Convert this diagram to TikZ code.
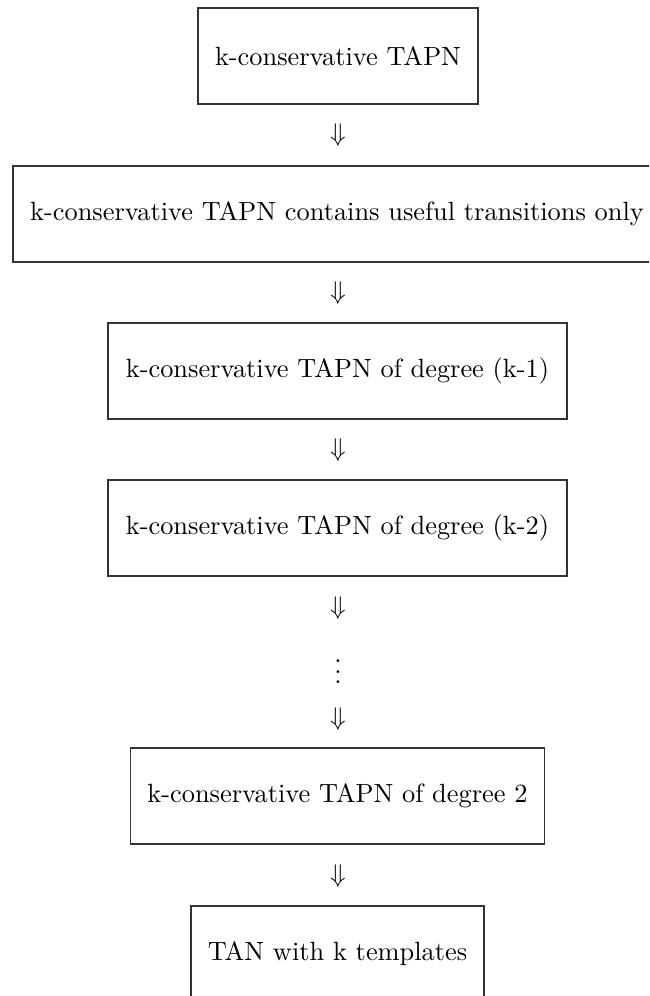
\documentclass[tikz,border=0pt]{standalone}
\usepackage{amsmath}
\begin{document}
\begin{tikzpicture}[x=0.3906pt,y=-0.3906pt,
  stage/.style={draw=black!80,line width=0.45pt,inner sep=0pt,
    minimum height={96*0.3906pt},font=\fontsize{10.3}{12.4}\selectfont},
  implies/.style={inner sep=0pt,font=\fontsize{10.3}{12.4}\selectfont}]
\useasboundingbox (0,0) rectangle (649,996);
\clip (0,0) rectangle (649,996);
% the chain of reductions, one box per stage
\node[stage,minimum width={280*0.3906pt}] (b1) at (338,56) {k-conservative TAPN};
\node[stage,minimum width={648*0.3906pt}] (b2) at (337,214) {k-conservative TAPN contains useful transitions only};
\node[stage,minimum width={459*0.3906pt}] (b3) at (337.5,371) {k-conservative TAPN of degree (k-1)};
\node[stage,minimum width={459*0.3906pt}] (b4) at (337.5,528) {k-conservative TAPN of degree (k-2)};
\node[stage,minimum width={414*0.3906pt}] (b5) at (337.5,796) {k-conservative TAPN of degree 2};
\node[stage,minimum width={293*0.3906pt}] (b6) at (337.5,954) {TAN with k templates};
% implication symbols between the stages
\node[implies] (a1) at (338,135) {$\Downarrow$};
\node[implies] (a2) at (338,293) {$\Downarrow$};
\node[implies] (a3) at (338,450) {$\Downarrow$};
\node[implies] (a4) at (338,608) {$\Downarrow$};
\node[implies] (d)  at (338,664) {$\vdots$};
\node[implies] (a5) at (338,719) {$\Downarrow$};
\node[implies] (a6) at (338,876) {$\Downarrow$};
\end{tikzpicture}
\end{document}
